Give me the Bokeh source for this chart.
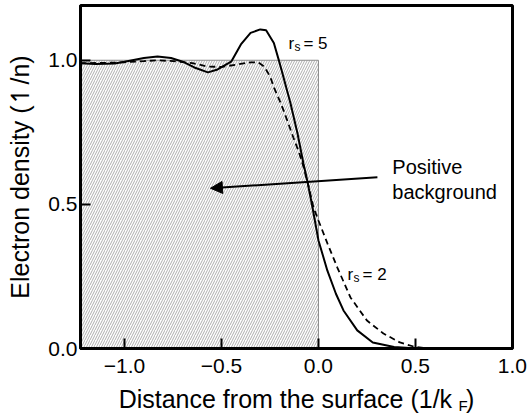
from bokeh.plotting import figure
from bokeh.models import Range1d, FixedTicker, Label, Arrow, NormalHead, LinearAxis
from bokeh.embed import file_html
from bokeh.resources import INLINE

FONT = "Liberation Sans"
NBSP = "\u00a0"

# ---- data ----
x_rs5 = [-1.23, -1.15, -1.05, -1.0, -0.9, -0.83, -0.76, -0.70, -0.64, -0.57, -0.52,
         -0.45, -0.40, -0.35, -0.30, -0.27, -0.23, -0.20, -0.18, -0.144, -0.108,
         -0.077, -0.057, -0.031, 0.0, 0.046, 0.09, 0.129, 0.20, 0.28, 0.39, 0.51, 0.60]
y_rs5 = [0.990, 0.987, 0.989, 0.995, 1.008, 1.013, 1.008, 0.995, 0.975, 0.958, 0.968,
         0.995, 1.055, 1.095, 1.107, 1.104, 1.06, 0.99, 0.94, 0.85, 0.746,
         0.64, 0.58, 0.49, 0.375, 0.27, 0.19, 0.132, 0.063, 0.021, 0.005, 0.0, 0.0]

x_rs2 = [-1.23, -1.1, -1.0, -0.9, -0.83, -0.75, -0.65, -0.57, -0.5, -0.42, -0.35,
         -0.31, -0.28, -0.25, -0.23, -0.20, -0.18, -0.155, -0.13, -0.10, -0.077,
         -0.05, -0.026, 0.0, 0.046, 0.098, 0.165, 0.25, 0.335, 0.42, 0.5, 0.58]
y_rs2 = [0.990, 0.991, 0.993, 0.997, 1.0, 0.997, 0.99, 0.978, 0.977, 0.985, 0.993,
         0.993, 0.978, 0.945, 0.906, 0.86, 0.826, 0.78, 0.733, 0.68, 0.63,
         0.56, 0.49, 0.444, 0.365, 0.28, 0.177, 0.097, 0.052, 0.021, 0.005, 0.0]

# positive background (jellium) block
bg_left = [-1.3]
bg_right = [0.0]
bg_bottom = [0.0]
bg_top = [1.0]

x_ticks = [-1.0, -0.5, 0.0, 0.5, 1.0]
x_tick_labels = ["\u22121.0", "\u22120.5", "0.0", "0.5", "1.0"]
y_ticks = [0.0, 0.5, 1.0]
y_tick_labels = ["0.0", "0.5", "1.0"]

x_range = (-1.227, 1.0005)
y_range = (0.0, 1.19)

p = figure(width=527, height=416, output_backend="svg", toolbar_location=None,
           x_range=Range1d(*x_range), y_range=Range1d(*y_range),
           min_border_left=80, min_border_right=15, min_border_top=5,
           min_border_bottom=68)
p.grid.visible = False
p.outline_line_color = "black"
p.outline_line_width = 3
p.background_fill_color = "white"
p.border_fill_color = "white"

p.quad(left=bg_left, right=bg_right, bottom=bg_bottom, top=bg_top,
       fill_color=None, line_color="#8a8a8a", line_width=1,
       hatch_pattern="/", hatch_color="#999999", hatch_scale=5, hatch_weight=0.8)

p.line(x_rs2, y_rs2, line_color="black", line_width=1.8, line_dash="6 4")
p.line(x_rs5, y_rs5, line_color="black", line_width=2)

for ax, ticks, labels in ((p.xaxis[0], x_ticks, x_tick_labels), (p.yaxis[0], y_ticks, y_tick_labels)):
    ax.ticker = FixedTicker(ticks=ticks)
    ax.major_label_overrides = {t: l for t, l in zip(ticks, labels)}
    ax.minor_tick_line_color = None
    ax.major_tick_in = 10
    ax.major_tick_out = 0
    ax.major_tick_line_width = 2
    ax.major_tick_line_color = "black"
    ax.axis_line_width = 3
    ax.major_label_text_font = FONT
    ax.major_label_text_font_size = "21px"
    ax.major_label_text_color = "black"
    ax.axis_label_text_font = FONT
    ax.axis_label_text_font_style = "normal"
    ax.axis_label_text_color = "black"

p.xaxis.major_label_standoff = 10
p.yaxis.major_label_standoff = 3
p.yaxis.axis_label = "Electron density (\u21bf/n)"
p.yaxis.axis_label_text_font_size = "25px"
p.yaxis.axis_label_standoff = 11

p.xaxis.axis_label = "Distance from the surface (1/k" + NBSP * 2 + ")"
p.xaxis.axis_label_text_font_size = "25px"
p.xaxis.axis_label_standoff = 9

# subscript F of k_F, carried by a second (bare) bottom axis
sub_axis = LinearAxis(ticker=FixedTicker(ticks=[]), axis_line_color=None,
                      major_tick_line_color=None, minor_tick_line_color=None,
                      major_label_text_font_size="0px",
                      axis_label=NBSP * 80 + "F", axis_label_text_font=FONT,
                      axis_label_text_font_size="15px", axis_label_text_font_style="normal",
                      axis_label_text_color="black", axis_label_standoff=-19)
p.add_layout(sub_axis, "below")

# curve labels r_s
lab_kw = dict(text_font=FONT, text_color="black")
def rs_label(x, y, num):
    p.add_layout(Label(x=x, y=y, text="r", text_baseline="alphabetic", text_font_size="17px", **lab_kw))
    p.add_layout(Label(x=x, y=y, x_offset=6, y_offset=-4, text="s", text_baseline="alphabetic",
                       text_font_size="12px", **lab_kw))
    p.add_layout(Label(x=x, y=y, x_offset=15, text="= " + num, text_baseline="alphabetic",
                       text_font_size="17px", **lab_kw))

rs_label(-0.155, 1.059, "5")
rs_label(0.15, 0.257, "2")

# positive background annotation
p.add_layout(Label(x=0.381, y=0.628, text="Positive", text_baseline="middle",
                   text_font_size="20px", **lab_kw))
p.add_layout(Label(x=0.381, y=0.542, text="background", text_baseline="middle",
                   text_font_size="20px", **lab_kw))
p.add_layout(Arrow(end=NormalHead(size=12, fill_color="black", line_color="black", line_width=1),
                   x_start=0.304, y_start=0.594, x_end=-0.557, y_end=0.556,
                   line_width=2, line_color="black"))

open("out.html", "w").write(file_html(p, INLINE))
